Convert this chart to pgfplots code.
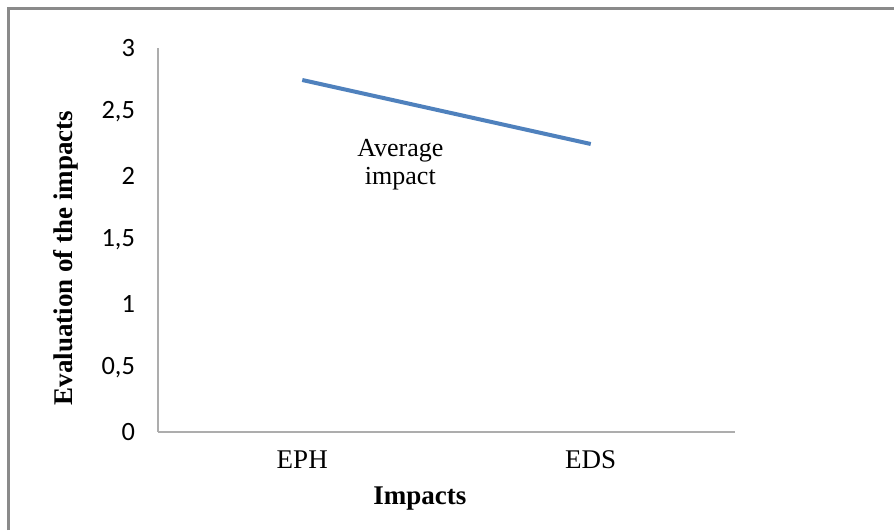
\documentclass[border=0pt]{standalone}
\usepackage{pgfplots}
\pgfplotsset{compat=1.18}
\usepackage{fontspec}
\setmainfont{Liberation Serif}
\newfontfamily\calibri{Carlito}
\definecolor{lineblue}{HTML}{4F81BD}
\definecolor{axisgray}{HTML}{ADADAD}
\definecolor{framegray}{HTML}{8A8A8A}
\begin{document}
\begin{tikzpicture}
  % canvas: 1px of the reference = 0.5pt
  \useasboundingbox (0,0) rectangle (447pt,265pt);
  \fill[white] (0,0) rectangle (447pt,265pt);
  % outer frame (top and left visible)
  \draw[framegray, line width=1.5pt] (4.4pt,0) -- (4.4pt,260.6pt) -- (447pt,260.6pt);
  \begin{axis}[
      at={(79pt,49pt)}, anchor=south west,
      scale only axis, width=288.5pt, height=192pt,
      xmin=-0.5, xmax=1.5, ymin=0, ymax=3,
      axis x line=bottom, axis y line=left,
      axis line style={axisgray, line width=0.75pt, -},
      major tick length=0pt,
      xtick={0,1}, xticklabels={EPH,EDS},
      xticklabel style={font=\fontsize{13.5}{15}\selectfont, yshift=-6pt},
      ytick={0,0.5,1,1.5,2,2.5,3},
      yticklabels={0,{0,5},1,{1,5},2,{2,5},3},
      yticklabel style={font=\calibri\fontsize{13.2}{15}\selectfont, xshift=-8pt},
      xlabel={Impacts},
      ylabel={Evaluation of the impacts},
      xlabel style={font=\bfseries\fontsize{13.5}{15}\selectfont,
        at={(axis description cs:0.454,-0.172)}, anchor=center},
      ylabel style={font=\bfseries\fontsize{13.5}{15}\selectfont,
        at={(axis description cs:-0.159,0.453)}, anchor=center, rotate=0},
      clip=false,
    ]
    \addplot[lineblue, line width=2pt] coordinates {(0,2.75) (1,2.25)};
    \node[align=center, font=\fontsize{13}{14}\selectfont]
      at (axis cs:0.34,2.09) {Average\\impact};
  \end{axis}
\end{tikzpicture}
\end{document}
